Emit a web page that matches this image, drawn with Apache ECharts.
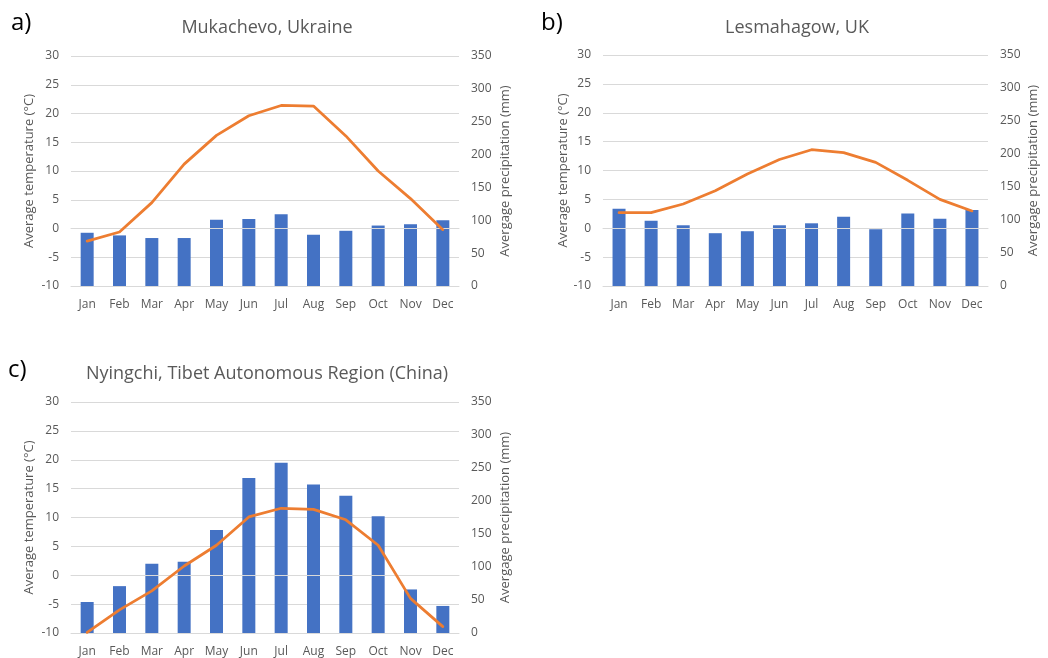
<!DOCTYPE html>
<html>
<head>
<meta charset="utf-8">
<script src="https://cdn.jsdelivr.net/npm/echarts@6/dist/echarts.min.js"></script>
<style>
  html, body { margin: 0; padding: 0; background: #fff; }
  #main { width: 1048px; height: 658px; }
</style>
</head>
<body>
<div id="main"></div>
<script>
// month categories
var months = ["Jan", "Feb", "Mar", "Apr", "May", "Jun", "Jul", "Aug", "Sep", "Oct", "Nov", "Dec"];

// a) Mukachevo
var mukTemp = [-2.2, -0.6, 4.5, 11.2, 16.2, 19.6, 21.4, 21.3, 16.1, 10.0, 5.2, -0.2];
var mukPrecip = [81, 77, 73, 73, 101, 102, 109, 78, 84, 92, 94, 100];
// b) Lesmahagow
var lesTemp = [2.7, 2.7, 4.2, 6.5, 9.4, 11.9, 13.6, 13.1, 11.4, 8.3, 5.0, 3.0];
var lesPrecip = [117, 99, 92, 80, 83, 92, 95, 105, 86, 110, 102, 115];
// c) Nyingchi
var nyiTemp = [-9.9, -6.0, -2.7, 1.6, 5.2, 10.1, 11.6, 11.4, 9.6, 5.2, -4.0, -8.9];
var nyiPrecip = [47, 71, 105, 108, 156, 235, 258, 225, 208, 177, 66, 41];

// axis ranges
var tempRange = [-10, 30, 5];
var precipRange = [0, 350, 50];

var font = "'Open Sans', 'Noto Sans', sans-serif";
var grey = "#595959";
var gridCol = "#d9d9d9";

var panels = [
  { tag: "a)", title: "Mukachevo, Ukraine", temp: mukTemp, precip: mukPrecip,
    grid: { left: 71, top: 56, width: 388, height: 230 }, tagPos: [11, 11], titleX: 267, titleY: 19, gapL: 35, gapR: 40 },
  { tag: "b)", title: "Lesmahagow, UK", temp: lesTemp, precip: lesPrecip,
    grid: { left: 603, top: 55, width: 385, height: 231 }, tagPos: [541, 11], titleX: 797, titleY: 19, gapL: 33, gapR: 39 },
  { tag: "c)", title: "Nyingchi, Tibet Autonomous Region (China)", temp: nyiTemp, precip: nyiPrecip,
    grid: { left: 71, top: 402, width: 388, height: 231 }, tagPos: [8, 358], titleX: 267, titleY: 365, gapL: 35, gapR: 40 }
];

var option = {
  animation: false,
  textStyle: { fontFamily: font },
  title: [],
  grid: [],
  xAxis: [],
  yAxis: [],
  series: []
};

panels.forEach(function (p, i) {
  option.grid.push(p.grid);
  option.title.push({
    text: p.title, left: p.titleX, top: p.titleY, textAlign: "center", padding: 0,
    textStyle: { fontFamily: font, fontSize: 18, fontWeight: "normal", color: grey }
  });
  option.title.push({
    text: p.tag, left: p.tagPos[0], top: p.tagPos[1], padding: 0,
    textStyle: { fontFamily: font, fontSize: 24, fontWeight: "normal", color: "#000" }
  });
  // category axis at the bottom
  option.xAxis.push({
    type: "category", gridIndex: i, data: months, position: "bottom",
    axisLine: { onZero: false, lineStyle: { color: gridCol } },
    axisTick: { show: false },
    axisLabel: { color: grey, fontSize: 12, margin: 13, fontFamily: font }
  });
  // horizontal line at 0 °C drawn over the bars
  option.xAxis.push({
    type: "category", gridIndex: i, data: months, position: "bottom", z: 3,
    axisLine: { onZero: true, onZeroAxisIndex: 2 * i, lineStyle: { color: gridCol } },
    axisTick: { show: false },
    axisLabel: { show: false }
  });
  option.yAxis.push({
    type: "value", gridIndex: i, position: "left",
    min: tempRange[0], max: tempRange[1], interval: tempRange[2],
    name: "Average temperature (°C)", nameLocation: "middle", nameGap: p.gapL,
    nameTextStyle: { color: grey, fontSize: 13, fontFamily: font },
    axisLine: { show: false }, axisTick: { show: false },
    axisLabel: { color: grey, fontSize: 12, margin: 12, fontFamily: font },
    splitLine: { lineStyle: { color: gridCol, width: 1 } }
  });
  option.yAxis.push({
    type: "value", gridIndex: i, position: "right",
    min: precipRange[0], max: precipRange[1], interval: precipRange[2],
    name: "Avergage precipitation (mm)", nameLocation: "middle", nameGap: p.gapR,
    nameTextStyle: { color: grey, fontSize: 13, fontFamily: font },
    axisLine: { show: false }, axisTick: { show: false },
    axisLabel: { color: grey, fontSize: 12, margin: 12, fontFamily: font },
    splitLine: { show: false }
  });
  option.series.push({
    type: "bar", xAxisIndex: 2 * i, yAxisIndex: 2 * i + 1,
    barWidth: 13, itemStyle: { color: "#4472C4" }, z: 2,
    data: p.precip
  });
  option.series.push({
    type: "line", xAxisIndex: 2 * i, yAxisIndex: 2 * i, z: 4,
    showSymbol: false, symbol: "none",
    lineStyle: { color: "#ED7D31", width: 2.75, cap: "round", join: "round" },
    data: p.temp
  });
});

var myChart = echarts.init(document.getElementById("main"));
myChart.setOption(option);
</script>
</body>
</html>
